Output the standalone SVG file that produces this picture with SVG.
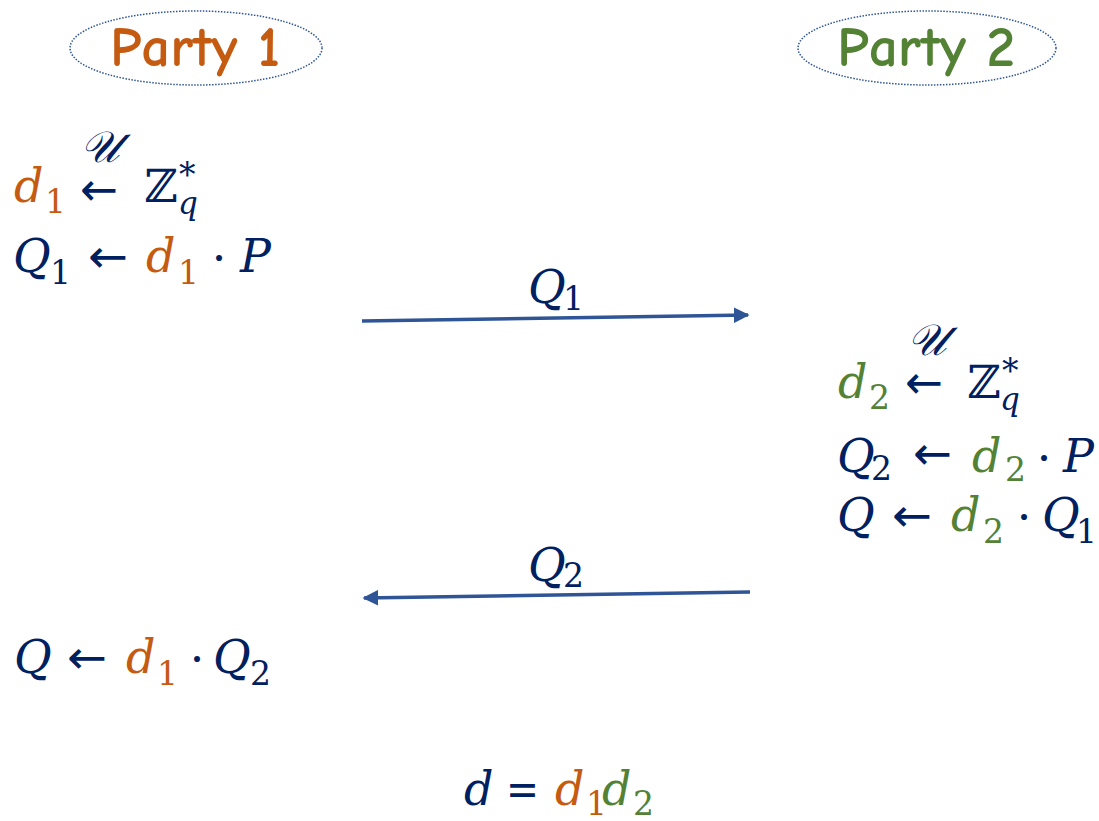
<svg xmlns="http://www.w3.org/2000/svg" width="1099" height="821" viewBox="0 0 1099 821">
<defs>
<style>
.m{font-family:"DejaVu Serif","Liberation Serif",serif;font-style:italic;font-size:46px;fill:#002060}
.s{font-family:"DejaVu Serif","Liberation Serif",serif;font-style:normal;font-size:33px;fill:#002060}
.sq{font-family:"DejaVu Serif","Liberation Serif",serif;font-style:italic;font-size:31px;fill:#002060}
.u{font-family:"DejaVu Serif","Liberation Serif",serif;font-style:italic;font-size:44px;fill:#002060}
.up{font-family:"DejaVu Serif","Liberation Serif",serif;font-style:normal;font-size:46px;fill:#002060}
.dot{font-family:"DejaVu Serif","Liberation Serif",serif;font-size:46px;fill:#002060;text-anchor:middle}
.ar{font-family:"DejaVu Sans",sans-serif;font-size:46px;fill:#002060}
.o{fill:#C55A11}
.g{fill:#548235}
.party{font-family:"Comic Neue","Comic Sans MS","DejaVu Sans",sans-serif;font-size:56px;font-weight:700}
.ell{fill:none;stroke:#2F5597;stroke-width:1.5;stroke-dasharray:1.5 1.5}
.conn{stroke:#2F5597;stroke-width:3.5;fill:none}
</style>
<marker id="ah" viewBox="0 0 10 10" refX="9" refY="5" markerWidth="4.5" markerHeight="4.5" orient="auto" markerUnits="strokeWidth">
<path d="M0,0 L10,5 L0,10 z" fill="#2F5597"/>
</marker>
</defs>
<rect width="1099" height="821" fill="#ffffff"/>

<g id="party1">
<ellipse class="ell" cx="196" cy="48" rx="126" ry="37"/>
<text class="party" x="195" y="66" text-anchor="middle" fill="#C55A11" textLength="170" lengthAdjust="spacingAndGlyphs">Party 1</text>
</g>
<g id="party2">
<ellipse class="ell" cx="927" cy="48" rx="129" ry="37"/>
<text class="party" x="926" y="66" text-anchor="middle" fill="#548235" textLength="178" lengthAdjust="spacingAndGlyphs">Party 2</text>
</g>

<g id="party1-steps">
<text class="u" x="80" y="162">𝒰</text>
<text class="m o" x="14" y="202">d</text><text class="s o" x="45" y="213">1</text>
<text class="ar" x="80" y="205" textLength="38" lengthAdjust="spacingAndGlyphs">←</text>
<text class="up" x="144" y="202">ℤ</text><text class="s" x="179" y="186" font-size="28">*</text><text class="sq" x="178" y="214">q</text>
<text class="m" x="13" y="272">Q</text><text class="s" x="50" y="284">1</text>
<text class="ar" x="88" y="272" textLength="40" lengthAdjust="spacingAndGlyphs">←</text>
<text class="m o" x="146" y="272">d</text><text class="s o" x="178" y="284">1</text>
<text class="dot" x="219" y="274">·</text>
<text class="m" x="240" y="272">P</text>
</g>

<g id="party1-result">
<text class="m" x="14" y="673">Q</text>
<text class="ar" x="67" y="673" textLength="40" lengthAdjust="spacingAndGlyphs">←</text>
<text class="m o" x="126" y="673">d</text><text class="s o" x="157" y="685">1</text>
<text class="dot" x="197" y="675">·</text>
<text class="m" x="213" y="673">Q</text><text class="s" x="250" y="685">2</text>
</g>

<g id="party2-steps">
<text class="u" x="907" y="355">𝒰</text>
<text class="m g" x="838" y="398">d</text><text class="s g" x="869" y="409">2</text>
<text class="ar" x="905" y="398" textLength="38" lengthAdjust="spacingAndGlyphs">←</text>
<text class="up" x="967" y="398">ℤ</text><text class="s" x="1002" y="382" font-size="28">*</text><text class="sq" x="1000" y="410">q</text>
<text class="m" x="837" y="472">Q</text><text class="s" x="871" y="480">2</text>
<text class="ar" x="913" y="469" textLength="39" lengthAdjust="spacingAndGlyphs">←</text>
<text class="m g" x="972" y="472">d</text><text class="s g" x="1005" y="481">2</text>
<text class="dot" x="1044" y="474">·</text>
<text class="m" x="1063" y="472">P</text>
<text class="m" x="837" y="531">Q</text>
<text class="ar" x="892" y="531" textLength="40" lengthAdjust="spacingAndGlyphs">←</text>
<text class="m g" x="951" y="531">d</text><text class="s g" x="983" y="543">2</text>
<text class="dot" x="1024" y="533">·</text>
<text class="m" x="1042" y="531">Q</text><text class="s" x="1076" y="543">1</text>
</g>

<g id="result">
<text class="m" x="464" y="805">d</text>
<text class="up" x="506" y="805" textLength="33" lengthAdjust="spacingAndGlyphs">=</text>
<text class="m o" x="555" y="805">d</text><text class="s o" x="586" y="815">1</text>
<text class="m g" x="602" y="805">d</text><text class="s g" x="633" y="815">2</text>
</g>

<g id="connectors">
<path class="conn" d="M362,321 L748,315" marker-end="url(#ah)"/>
<path class="conn" d="M750,592 L364,598" marker-end="url(#ah)"/>
<text class="m" x="528" y="303">Q</text><text class="s" x="563" y="310">1</text>
<text class="m" x="528" y="581">Q</text><text class="s" x="563" y="587">2</text>
</g>
</svg>
